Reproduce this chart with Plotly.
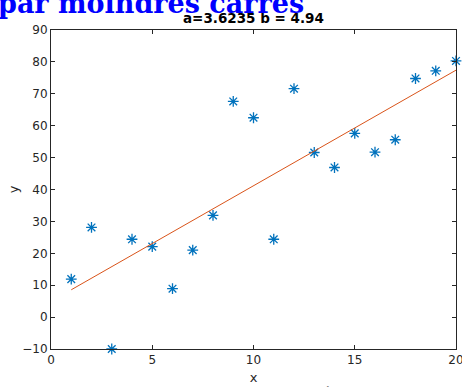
import plotly.graph_objects as go

x_vals = list(range(1, 21))
y_vals = [11.9, 28.1, -10.0, 24.4, 22.1, 8.9, 21.0, 31.9, 67.6, 62.5,
          24.4, 71.6, 51.6, 46.9, 57.6, 51.7, 55.6, 74.8, 77.2, 80.3]
fit_a = 3.6235
fit_b = 4.94
x_ticks = [0, 5, 10, 15, 20]
y_ticks = [-10, 0, 10, 20, 30, 40, 50, 60, 70, 80, 90]

line_x = [x_vals[0], x_vals[-1]]
line_y = [fit_a * v + fit_b for v in line_x]

axis_color = "#262626"
fig = go.Figure()
fig.add_trace(go.Scatter(x=x_vals, y=y_vals, mode="markers",
                         marker=dict(symbol="asterisk-open", size=9, color="#0072BD",
                                     line=dict(color="#0072BD", width=1.3)),
                         showlegend=False, cliponaxis=False))
fig.add_trace(go.Scatter(x=line_x, y=line_y, mode="lines",
                         line=dict(color="#D95319", width=1),
                         showlegend=False))

common = dict(showgrid=False, zeroline=False, showline=True, linecolor=axis_color,
              linewidth=1, mirror="allticks", ticks="inside", ticklen=4,
              tickcolor=axis_color, ticklabeloverflow="allow", automargin=False,
              tickfont=dict(family="DejaVu Sans", size=12, color=axis_color))
fig.update_xaxes(range=[0, 20], tickvals=x_ticks, **common,
                 title=dict(text="x", font=dict(family="DejaVu Sans", size=13, color=axis_color), standoff=6))
fig.update_yaxes(range=[-10, 90], tickvals=y_ticks, **common,
                 title=dict(text="y", font=dict(family="DejaVu Sans", size=13, color=axis_color), standoff=0))

fig.update_layout(
    width=462, height=387,
    margin=dict(l=51, r=6, t=30, b=38),
    paper_bgcolor="white", plot_bgcolor="white",
    annotations=[
        dict(text="<b>a=3.6235 b = 4.94</b>", xref="paper", yref="paper",
             x=0.5, y=1.0, xanchor="center", yanchor="bottom", yshift=2,
             showarrow=False, font=dict(family="DejaVu Sans", size=13.5, color="black")),
        dict(text="<b>par moindres carrés</b>", xref="paper", yref="paper",
             x=-0.135, y=1.0, xanchor="left", yanchor="bottom", yshift=9,
             showarrow=False, font=dict(family="DejaVu Serif", size=27, color="#0000ff")),
        dict(text="les points (x, y) et la droite définie par les moindres carrés",
             xref="paper", yref="paper", x=0.05, y=0, xanchor="left", yanchor="top",
             yshift=-32.5, showarrow=False,
             font=dict(family="DejaVu Serif", size=17, color="black")),
    ],
)

fig.write_html("out.html")
